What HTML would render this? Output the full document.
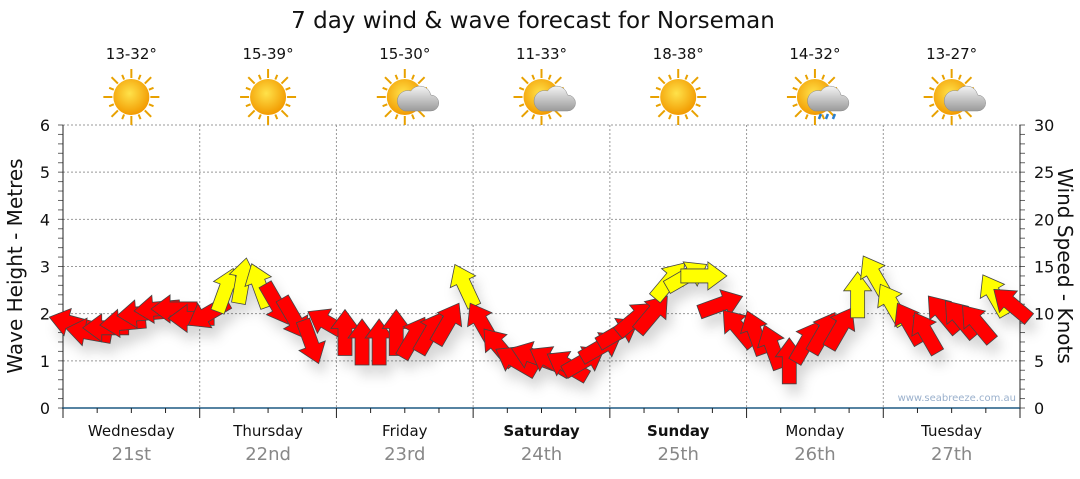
<!DOCTYPE html>
<html><head><meta charset="utf-8"><style>
body{margin:0;background:#fff;width:1080px;height:475px;overflow:hidden;font-family:"DejaVu Sans","Liberation Sans",sans-serif}
</style></head><body>
<svg id="chart" width="1080" height="475" xmlns="http://www.w3.org/2000/svg">
<defs>
<filter id="sh" x="-50%" y="-50%" width="200%" height="200%"><feDropShadow dx="5" dy="10" stdDeviation="6" flood-color="#000" flood-opacity="0.16"/></filter>
<radialGradient id="sun" cx="45%" cy="40%" r="60%"><stop offset="0" stop-color="#ffe24a"/><stop offset="1" stop-color="#f29a00"/></radialGradient>
<linearGradient id="cloud" x1="0" y1="0" x2="0" y2="1"><stop offset="0" stop-color="#f4f4f4"/><stop offset="1" stop-color="#9a9a9a"/></linearGradient>
</defs>
<text x="533" y="28" text-anchor="middle" font-size="23" fill="#111">7 day wind &amp; wave forecast for Norseman</text>
<g id="grid"></g><g id="axes"></g><g id="icons"></g><g id="arrows" filter="url(#sh)"></g>
<text transform="translate(22,266) rotate(-90)" text-anchor="middle" font-size="20" fill="#111">Wave Height - Metres</text>
<text transform="translate(1058,266) rotate(90)" text-anchor="middle" font-size="20" fill="#111">Wind Speed - Knots</text>
<text x="1016" y="401" text-anchor="end" font-size="10" fill="#9ab0cc">www.seabreeze.com.au</text>
</svg>
<script>
const days=["Wednesday","Thursday","Friday","Saturday","Sunday","Monday","Tuesday"];
const dates=["21st","22nd","23rd","24th","25th","26th","27th"];
const temps=["13-32°","15-39°","15-30°","11-33°","18-38°","14-32°","13-27°"];
const weather=["sun","sun","cloud","cloud","sun","rain","cloud"];
const windSpeed=[9,8,8.5,9,10,10.5,10.5,9.5,10,12.5,13.5,13,11,9.5,7,9,8,7,7,8,7.5,8,9,13,9,6.5,5,5.5,5,4.5,5,6.5,8,9.5,10,13.5,14,14,11,8.5,8,6.5,5,7,8,8.5,12,14,11,9,8,10,9.5,9,12,11];
const windDir=[285,280,270,265,265,265,270,270,240,20,10,340,150,150,160,300,0,0,0,0,30,30,30,335,330,320,300,290,300,300,60,60,60,50,40,40,60,90,70,320,340,340,0,30,30,30,0,330,330,330,330,320,320,320,330,310];
const windColor=["r","r","r","r","r","r","r","r","r","y","y","y","r","r","r","r","r","r","r","r","r","r","r","y","r","r","r","r","r","r","r","r","r","r","r","y","y","y","r","r","r","r","r","r","r","r","y","y","y","r","r","r","r","r","y","r"];
const waveTicks=[0,1,2,3,4,5,6];
const windTicks=[0,5,10,15,20,25,30];
const NS="http://www.w3.org/2000/svg";
const X0=63,X1=1020,Y0=408,Y1=125,DW=(X1-X0)/7;
const yW=v=>Y0-(v/6)*(Y0-Y1);
const yK=v=>Y0-(v/30)*(Y0-Y1);
const xT=i=>X0+(i+0.5)*(X1-X0)/56;
function mk(t,a,p){const e=document.createElementNS(NS,t);for(const k in a)e.setAttribute(k,a[k]);(p||document.getElementById('axes')).appendChild(e);return e;}
const grid=document.getElementById('grid');
waveTicks.forEach(v=>{
 if(v>0){const l=mk('line',{x1:X0,x2:X1,y1:yW(v),y2:yW(v),stroke:'#999','stroke-dasharray':'2,2'},grid);
 
 }
 const t=mk('text',{x:50,y:yW(v)+6,'text-anchor':'end','font-size':16,fill:'#111'});t.textContent=v;
 
 
});
for(let i=0;i<=30;i++){const y=Y0-i*(Y0-Y1)/30;mk('line',{x1:X0-5,x2:X0,y1:y,y2:y,stroke:'#666'});mk('line',{x1:X1,x2:X1+5,y1:y,y2:y,stroke:'#666'});}
windTicks.forEach(v=>{const t=mk('text',{x:1034,y:yK(v)+6,'font-size':16,fill:'#111'});t.textContent=v;
 
 });
mk('line',{x1:X0,x2:X0,y1:Y1,y2:Y0,stroke:'#222'});
mk('line',{x1:X1,x2:X1,y1:Y1,y2:Y0,stroke:'#222'});
mk('line',{x1:X0-1,x2:X1,y1:Y0,y2:Y0,stroke:'#1f5a84','stroke-width':1.5});
for(let i=0;i<=28;i++){const x=X0+i*DW/4;mk('line',{x1:x,x2:x,y1:Y0,y2:Y0+(i%4?5:10),stroke:'#222'});}
days.forEach((d,i)=>{
 const cx=X0+(i+0.5)*DW;
 if(i>0){const l=mk('line',{x1:X0+i*DW,x2:X0+i*DW,y1:Y1,y2:Y0,stroke:'#999','stroke-dasharray':'2,2'},grid);
 
 }
 const t=mk('text',{x:cx,y:436,'text-anchor':'middle','font-size':15,fill:'#111','font-weight':(i==3||i==4)?'bold':'normal'});t.textContent=d;
 
 
 const t2=mk('text',{x:cx,y:460,'text-anchor':'middle','font-size':18,fill:'#888'});t2.textContent=dates[i];
 
 
 const t3=mk('text',{x:cx,y:59,'text-anchor':'middle','font-size':15,fill:'#111'});t3.textContent=temps[i];
 
 
 const g=mk('g',{transform:`translate(${cx},97)`},document.getElementById('icons'));
 
 
 for(let k=0;k<16;k++){const a=k*22.5*Math.PI/180;mk('line',{x1:Math.cos(a)*19,y1:Math.sin(a)*19,x2:Math.cos(a)*(k%2?24:28),y2:Math.sin(a)*(k%2?24:28),stroke:'#e8a100','stroke-width':2},g);}
 mk('circle',{r:18,fill:'url(#sun)'},g);
 if(weather[i]!='sun'){mk('path',{d:'M0,14 h26 a8,8 0 0 0 0,-16 a11,11 0 0 0 -20,-4 a8,8 0 0 0 -6,20z',fill:'url(#cloud)',stroke:'#888','stroke-width':0.5},g);}
 if(weather[i]=='rain'){[6,13,20].forEach(x=>mk('path',{d:`M${x},17 l-2,5`,stroke:'#2a7fd0','stroke-width':2.5},g));}
});
const ag=document.getElementById('arrows');
windSpeed.forEach((v,i)=>{
 const p=mk('path',{d:'M0,-23 L14,-4 L7,-4 L7,23 L-7,23 L-7,-4 L-14,-4 Z',fill:windColor[i]=='y'?'#ffff00':'#ff0000',stroke:'#444','stroke-width':0.8,transform:`translate(${xT(i)},${yK(v)}) rotate(${windDir[i]})`},ag);
 
 
});
</script>
</body></html>
